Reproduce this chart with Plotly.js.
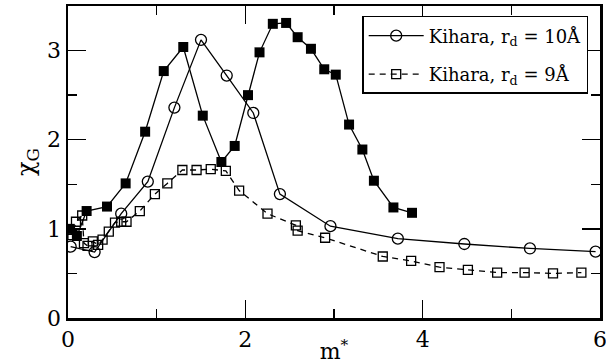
<!DOCTYPE html>
<html>
<head>
<meta charset="utf-8">
<script src="https://cdn.plot.ly/plotly-3.0.1.min.js"></script>
<style>html,body{margin:0;padding:0;background:#fff;}#chart{width:606px;height:364px;}</style>
</head>
<body>
<div id="chart"></div>
<script>
// Kihara, r_d = 10 Å (open circles, solid line)
const x10 = [0.03, 0.30, 0.60, 0.90, 1.20, 1.50, 1.79, 2.09, 2.39, 2.96, 3.72, 4.47, 5.21, 5.95];
const y10 = [0.80, 0.74, 1.17, 1.53, 2.36, 3.12, 2.72, 2.30, 1.39, 1.03, 0.89, 0.83, 0.78, 0.745];

// Kihara, r_d = 9 Å (open squares, dashed line)
const x9 = [0.01, 0.05, 0.09, 0.16, 0.18, 0.22, 0.28, 0.34, 0.39, 0.46, 0.53, 0.60, 0.66, 0.81, 0.98, 1.12, 1.29, 1.45, 1.61, 1.78, 1.93, 2.25, 2.57, 2.59, 2.90, 3.55, 3.87, 4.19, 4.51, 4.84, 5.15, 5.47, 5.79];
const y9 = [0.99, 0.93, 1.08, 1.15, 0.84, 0.81, 0.86, 0.82, 0.88, 0.97, 1.07, 1.08, 1.08, 1.20, 1.39, 1.51, 1.66, 1.66, 1.67, 1.65, 1.43, 1.17, 1.04, 0.98, 0.90, 0.69, 0.64, 0.57, 0.54, 0.51, 0.51, 0.50, 0.51];

// Third series (filled squares, solid line, not in legend)
const xF = [0.02, 0.10, 0.21, 0.44, 0.65, 0.87, 1.08, 1.30, 1.52, 1.73, 1.88, 2.03, 2.16, 2.31, 2.46, 2.59, 2.74, 2.89, 3.02, 3.17, 3.32, 3.45, 3.67, 3.88];
const yF = [1.00, 0.92, 1.20, 1.25, 1.51, 2.09, 2.77, 3.04, 2.27, 1.75, 1.93, 2.50, 2.98, 3.30, 3.31, 3.15, 3.02, 2.79, 2.73, 2.17, 1.89, 1.54, 1.24, 1.18];

const names = ['Kihara, r<sub>d</sub> = 10Å', 'Kihara, r<sub>d</sub> = 9Å'];

const font = 'DejaVu Serif';

const traces = [
  {x: xF, y: yF, type: 'scatter', mode: 'lines+markers', showlegend: false,
   line: {color: '#000', width: 1.3},
   marker: {symbol: 'square', size: 10, color: '#000'}},
  {x: x10, y: y10, type: 'scatter', mode: 'lines+markers', name: names[0], legendgroup: 'a',
   line: {color: '#000', width: 1.3},
   marker: {symbol: 'circle-open', size: 11, color: '#000', line: {width: 1.3}}},
  {x: x9, y: y9, type: 'scatter', mode: 'lines+markers', name: names[1], legendgroup: 'b',
   line: {color: '#000', width: 1.3, dash: '6px,5px'},
   marker: {symbol: 'square-open', size: 9, color: '#000', line: {width: 1.3}}}
];

const axisCommon = {
  showline: true, linecolor: '#000', linewidth: 2.5, mirror: 'ticks',
  ticks: 'inside', ticklen: 18, tickwidth: 1.5, tickcolor: '#000',
  showgrid: false, zeroline: false,
  ticklabeloverflow: 'allow',
  tickfont: {family: font, size: 22, color: '#000'}
};

const layout = {
  width: 606, height: 364,
  margin: {l: 68, r: 6, t: 6, b: 46},
  paper_bgcolor: '#fff', plot_bgcolor: '#fff',
  font: {family: font, color: '#000'},
  showlegend: true,
  xaxis: Object.assign({}, axisCommon, {
    range: [0, 6], dtick: 2, tick0: 0,
    minor: {dtick: 1, ticks: 'inside', ticklen: 9, tickwidth: 1.5, tickcolor: '#000'},
    title: {text: 'm<sup>*</sup>', font: {family: font, size: 22, color: '#000'}, standoff: 0}
  }),
  yaxis: Object.assign({}, axisCommon, {
    range: [0, 3.5], dtick: 1, tick0: 0,
    minor: {dtick: 0.5, ticks: 'inside', ticklen: 9, tickwidth: 1.5, tickcolor: '#000'},
    title: {text: 'χ<sub>G</sub>', font: {family: font, size: 24, color: '#000'}, standoff: 6}
  }),
  legend: {
    x: 0.553, y: 0.968, xanchor: 'left', yanchor: 'top',
    bgcolor: '#fff', bordercolor: '#000', borderwidth: 1.5,
    font: {family: font, size: 18, color: '#000'},
    itemwidth: 55,
    tracegroupgap: 12
  }
};

Plotly.newPlot('chart', traces, layout, {displayModeBar: false, staticPlot: true});
</script>
</body>
</html>
